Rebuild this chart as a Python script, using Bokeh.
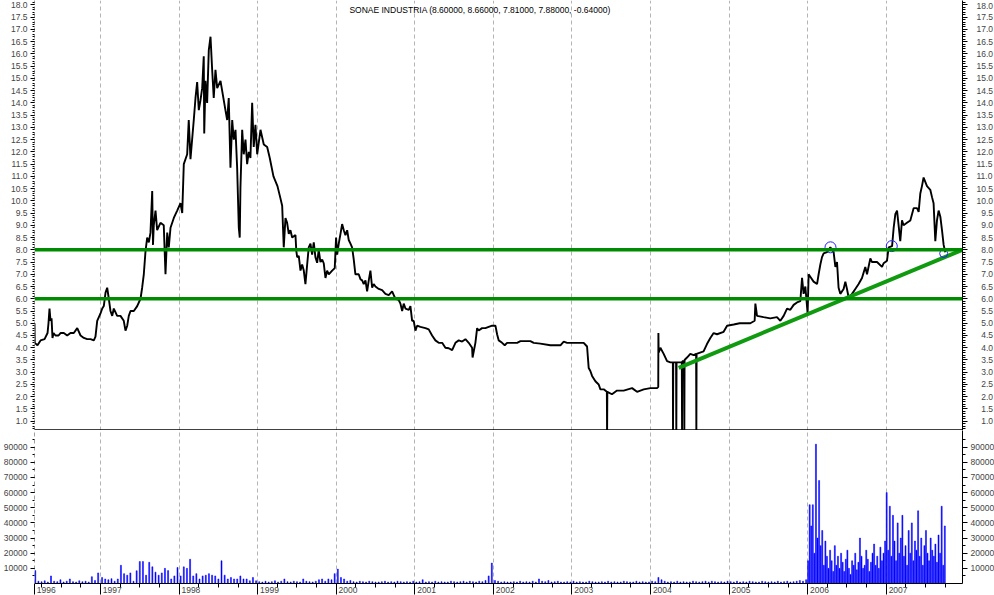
import numpy as np
from bokeh.plotting import figure
from bokeh.models import FixedTicker, LinearAxis, Span, Label, Range1d
from bokeh.layouts import column
from bokeh.embed import file_html
from bokeh.resources import INLINE

TITLE = "SONAE INDUSTRIA (8.60000, 8.66000, 7.81000, 7.88000, -0.64000)"
YEARS = list(range(1996, 2008))

# price series (decimal year, price)
price_t = [
    1996.160, 1996.163, 1996.198, 1996.237, 1996.288, 1996.326, 1996.338, 1996.351, 1996.364, 1996.377,
    1996.389, 1996.402, 1996.427, 1996.466, 1996.491, 1996.533, 1996.576, 1996.618, 1996.660, 1996.704,
    1996.746, 1996.788, 1996.831, 1996.873, 1996.915, 1996.936, 1996.958, 1997.000, 1997.022, 1997.042,
    1997.064, 1997.085, 1997.106, 1997.127, 1997.149, 1997.169, 1997.212, 1997.254, 1997.296, 1997.318,
    1997.340, 1997.360, 1997.382, 1997.424, 1997.467, 1997.509, 1997.530, 1997.551, 1997.573, 1997.594,
    1997.615, 1997.636, 1997.658, 1997.668, 1997.678, 1997.700, 1997.721, 1997.763, 1997.805, 1997.827,
    1997.849, 1997.869, 1997.891, 1997.933, 1997.976, 1998.018, 1998.040, 1998.060, 1998.103, 1998.123,
    1998.145, 1998.187, 1998.209, 1998.230, 1998.251, 1998.272, 1998.294, 1998.314, 1998.320, 1998.336,
    1998.357, 1998.378, 1998.400, 1998.421, 1998.441, 1998.463, 1998.485, 1998.527, 1998.548, 1998.569,
    1998.590, 1998.612, 1998.632, 1998.654, 1998.676, 1998.696, 1998.718, 1998.739, 1998.760, 1998.772,
    1998.781, 1998.803, 1998.823, 1998.845, 1998.866, 1998.887, 1998.908, 1998.930, 1998.950, 1998.972,
    1998.994, 1999.036, 1999.078, 1999.121, 1999.154, 1999.201, 1999.252, 1999.290, 1999.312, 1999.332,
    1999.354, 1999.375, 1999.396, 1999.417, 1999.439, 1999.481, 1999.492, 1999.503, 1999.523, 1999.545,
    1999.566, 1999.587, 1999.608, 1999.630, 1999.650, 1999.672, 1999.693, 1999.714, 1999.735, 1999.757,
    1999.777, 1999.799, 1999.821, 1999.841, 1999.863, 1999.884, 1999.905, 1999.948, 1999.981, 1999.998,
    2000.012, 2000.032, 2000.054, 2000.075, 2000.096, 2000.117, 2000.139, 2000.159, 2000.181, 2000.202,
    2000.223, 2000.244, 2000.286, 2000.308, 2000.330, 2000.350, 2000.372, 2000.393, 2000.414, 2000.435,
    2000.457, 2000.477, 2000.499, 2000.541, 2000.584, 2000.626, 2000.668, 2000.711, 2000.732, 2000.753,
    2000.795, 2000.817, 2000.839, 2000.859, 2000.881, 2000.923, 2000.944, 2000.966, 2000.986, 2001.008,
    2001.029, 2001.071, 2001.135, 2001.177, 2001.220, 2001.262, 2001.304, 2001.348, 2001.389, 2001.432,
    2001.475, 2001.517, 2001.559, 2001.602, 2001.644, 2001.686, 2001.729, 2001.735, 2001.771, 2001.793,
    2001.813, 2001.856, 2001.898, 2001.940, 2001.984, 2002.026, 2002.047, 2002.068, 2002.111, 2002.144,
    2002.174, 2002.302, 2002.344, 2002.471, 2002.513, 2002.598, 2002.725, 2002.853, 2002.895, 2002.938,
    2003.149, 2003.192, 2003.213, 2003.234, 2003.256, 2003.298, 2003.340, 2003.362, 2003.404, 2003.444,
    2003.447, 2003.450, 2003.509, 2003.573, 2003.658, 2003.765, 2003.828, 2003.913, 2003.998, 2004.083,
    2004.098, 2004.100, 2004.103, 2004.125, 2004.167, 2004.210, 2004.252, 2004.284, 2004.286, 2004.289,
    2004.303, 2004.325, 2004.328, 2004.331, 2004.358, 2004.398, 2004.401, 2004.404, 2004.413, 2004.427,
    2004.430, 2004.433, 2004.464, 2004.506, 2004.549, 2004.580, 2004.583, 2004.586, 2004.675, 2004.718,
    2004.761, 2004.803, 2004.846, 2004.930, 2004.974, 2005.058, 2005.134, 2005.185, 2005.270, 2005.325,
    2005.334, 2005.355, 2005.438, 2005.524, 2005.609, 2005.652, 2005.694, 2005.737, 2005.779, 2005.821,
    2005.864, 2005.906, 2005.928, 2005.948, 2005.970, 2005.999, 2006.012, 2006.033, 2006.075, 2006.119,
    2006.139, 2006.161, 2006.182, 2006.203, 2006.246, 2006.288, 2006.330, 2006.352, 2006.373, 2006.393,
    2006.415, 2006.457, 2006.479, 2006.500, 2006.521, 2006.564, 2006.606, 2006.648, 2006.691, 2006.733,
    2006.755, 2006.797, 2006.818, 2006.882, 2006.946, 2006.966, 2007.009, 2007.030, 2007.074, 2007.094,
    2007.115, 2007.137, 2007.157, 2007.178, 2007.200, 2007.220, 2007.263, 2007.306, 2007.348, 2007.391,
    2007.412, 2007.433, 2007.454, 2007.475, 2007.518, 2007.560, 2007.582, 2007.602, 2007.624, 2007.645,
    2007.666, 2007.688, 2007.709, 2007.730, 2007.751,
]
price_v = [
    5.0, 4.2, 4.1, 4.3, 4.35, 4.6, 5.0, 5.6, 5.1, 5.2,
    4.4, 4.6, 4.5, 4.5, 4.6, 4.6, 4.5, 4.6, 4.6, 4.8,
    4.5, 4.4, 4.35, 4.35, 4.3, 4.45, 5.1, 5.4, 5.6, 5.7,
    6.25, 6.45, 6.0, 5.5, 5.3, 5.6, 5.3, 5.3, 5.1, 4.7,
    4.9, 5.3, 5.5, 5.5, 5.7, 6.0, 6.45, 7.0, 7.95, 8.5,
    8.3, 8.7, 10.4, 8.2, 9.0, 9.6, 8.8, 9.1, 9.0, 7.0,
    8.7, 8.1, 8.9, 9.3, 9.6, 9.9, 9.5, 11.5, 11.9, 13.3,
    11.7, 13.3, 14.2, 14.85, 13.7, 14.1, 14.6, 15.9, 12.75, 14.9,
    14.0, 16.15, 16.7, 15.35, 14.2, 15.35, 14.6, 14.9, 14.5, 14.1,
    13.7, 13.3, 14.2, 11.35, 13.3, 12.5, 12.9, 11.35, 8.9, 8.5,
    10.55, 12.9, 11.9, 12.5, 11.5, 12.0, 11.75, 14.0, 12.2, 13.1,
    11.9, 12.9, 12.3, 12.2, 11.75, 11.0, 10.6, 10.1, 9.8, 8.1,
    9.3, 9.1, 8.65, 8.8, 8.5, 8.6, 7.95, 7.7, 7.75, 7.15,
    7.4, 7.15, 6.6, 7.4, 8.1, 8.25, 7.8, 8.3, 7.7, 7.47,
    8.0, 7.5, 7.6, 7.45, 6.85, 7.15, 7.0, 7.15, 7.25, 8.5,
    7.8, 8.25, 8.65, 9.05, 8.8, 8.6, 8.8, 8.4, 8.25, 8.1,
    7.6, 7.0, 7.0, 6.8, 6.75, 6.6, 6.75, 6.3, 6.75, 7.15,
    6.45, 6.6, 6.5, 6.4, 6.35, 6.2, 6.15, 6.3, 6.15, 6.0,
    5.95, 5.8, 5.5, 5.8, 5.6, 5.55, 5.7, 5.1, 5.1, 4.7,
    4.9, 4.85, 4.8, 4.75, 4.5, 4.3, 4.2, 4.2, 4.0, 3.98,
    3.9, 4.2, 4.3, 4.25, 4.35, 4.2, 4.0, 3.6, 4.2, 4.8,
    4.7, 4.8, 4.8, 4.85, 4.9, 4.9, 4.55, 4.3, 4.2, 4.1,
    4.2, 4.2, 4.27, 4.27, 4.2, 4.17, 4.1, 4.1, 4.25, 4.2,
    4.2, 4.05, 3.17, 3.05, 2.85, 2.63, 2.5, 2.3, 2.3, 2.2,
    0.5, 2.2, 2.1, 2.25, 2.25, 2.35, 2.2, 2.3, 2.35, 2.35,
    2.4, 4.6, 3.8, 4.0, 3.75, 3.45, 3.4, 3.4, 0.5, 3.4,
    3.4, 3.4, 0.5, 3.4, 3.4, 3.4, 0.5, 3.45, 3.45, 3.45,
    0.5, 3.5, 3.6, 3.75, 3.7, 3.75, 0.5, 3.75, 3.85, 4.15,
    4.4, 4.6, 4.55, 4.65, 4.9, 4.95, 5.0, 5.0, 5.0, 5.1,
    5.8, 5.3, 5.25, 5.2, 5.25, 5.1, 5.3, 5.6, 5.55, 5.75,
    5.85, 5.9, 6.85, 6.2, 6.5, 5.4, 7.0, 6.9, 6.7, 6.6,
    7.0, 7.4, 7.7, 7.85, 7.9, 8.1, 7.9, 7.3, 7.5, 6.45,
    6.2, 6.4, 6.7, 6.4, 6.05, 6.2, 6.4, 6.6, 6.85, 7.3,
    7.0, 7.65, 7.5, 7.5, 7.3, 7.45, 7.55, 8.1, 8.15, 8.9,
    9.45, 9.6, 9.0, 8.35, 9.2, 9.0, 9.1, 9.2, 9.7, 9.7,
    9.55, 10.3, 10.6, 10.95, 10.6, 10.45, 10.15, 9.9, 8.35, 9.2,
    9.6, 9.35, 8.8, 8.2, 7.9,
]

# support levels, trend line, marked touches
levels = [6.0, 8.0]
trend_t = [2004.358, 2007.97]
trend_v = [3.18, 8.0]
circ_t = [2006.29, 2007.07, 2007.73]
circ_v = [8.1, 8.15, 7.85]
circ_s = [11, 11, 8]

# volume by year (bars in sequence within each year)
vol_1996 = [8500, 1500, 1200, 1800, 1000, 5000, 1500, 1200, 2500, 1000, 1500, 3000, 1200, 1000, 1800, 1200, 1500, 1000, 4500, 2000, 7000]
vol_1997 = [4000, 3000, 2500, 3200, 1500, 3000, 12000, 6500, 5500, 7000, 1500, 8400, 14500, 14500, 5500, 14000, 11000, 7500, 5500, 7000, 10000, 8500, 3000, 5000, 10600]
vol_1998 = [5000, 11000, 10000, 16000, 5000, 6500, 3000, 5000, 5500, 6500, 5500, 5000, 3000, 15000, 5500, 3000, 4000, 3000, 3000, 5000, 3000, 3000, 1800, 4000, 1800]
vol_1999 = [1200, 1000, 1500, 1000, 1200, 1800, 1000, 1500, 3000, 1200, 1000, 1500, 1200, 1000, 3000, 1500, 1200, 1000, 1500, 2500, 3000, 1500, 3000, 2500, 6500]
vol_2000 = [9500, 4000, 3000, 1500, 2000, 1200, 1000, 1500, 1200, 1000, 1500, 1200, 1000, 1000, 1200, 1500, 1000, 1200, 1000, 1500, 1200, 1000, 1200, 1000, 1500]
vol_2001 = [1000, 1200, 2500, 1000, 1200, 1000, 1500, 1000, 1200, 1000, 1000, 1500, 1200, 1000, 1200, 1500, 1000, 1500, 1200, 1000, 1500, 1200, 2000, 5000, 13500]
vol_2002 = [2000, 1500, 1000, 1200, 1000, 1000, 1200, 1000, 1500, 1000, 1200, 1000, 1500, 1000, 3000, 1500, 1200, 2000, 1000, 1200, 1500, 1000, 1000, 1200, 1000]
vol_2003 = [1500, 1000, 1200, 1000, 1000, 1500, 1200, 1000, 1000, 1200, 1000, 1500, 1000, 1200, 1000, 1000, 1500, 1200, 1000, 1000, 1500, 1000, 1200, 1000, 1000]
vol_2004 = [1500, 1200, 4000, 2500, 1500, 1000, 1200, 1000, 1500, 1000, 1200, 1000, 1000, 1500, 1200, 1000, 1200, 1500, 1000, 1500, 1200, 1000, 1200, 1000, 1500]
vol_2005 = [1200, 1000, 1500, 1000, 1200, 1000, 1500, 1200, 1000, 1000, 1500, 1200, 1000, 1200, 1000, 1500, 1000, 1200, 1500, 1000, 1200, 1500, 2000, 1500, 2500]
vol_2006 = [15000, 52000, 38000, 52000, 20000, 92000, 30000, 68000, 25000, 35000, 12000, 28000, 18000, 10000, 22000, 15000, 8000, 25000, 12000, 18000,
            10000, 20000, 14000, 8000, 16000, 22000, 10000, 6000, 15000, 12000, 20000, 9000, 14000, 30000, 18000, 10000, 12000, 22000, 16000, 8000,
            14000, 20000, 26000, 12000, 18000, 10000, 24000, 15000, 20000, 28000]
vol_2007 = [60000, 22000, 51000, 18000, 45000, 28000, 15000, 40000, 20000, 30000, 45000, 18000, 25000, 12000, 35000, 20000, 40000, 15000, 28000, 22000,
            48000, 18000, 30000, 12000, 25000, 35000, 20000, 15000, 30000, 22000, 18000, 26000, 14000, 32000, 20000, 51000, 12000, 38000]

# ---- placement of bars within each year ----
vol_x, vol_y = [], []
blocks = [(1996, vol_1996, 0.17, 0.04)] + \
         [(y, v, 0.02, 0.04) for y, v in zip(range(1997, 2006),
          [vol_1997, vol_1998, vol_1999, vol_2000, vol_2001, vol_2002, vol_2003, vol_2004, vol_2005])] + \
         [(2006, vol_2006, 0.005, 0.02), (2007, vol_2007, 0.005, 0.02)]
for yr, vals, off, step in blocks:
    for i, v in enumerate(vals):
        vol_x.append(yr + off + i * step)
        vol_y.append(v)

X0, X1 = 1996.16, 2007.97
FONT = "Liberation Sans"
FS = "8.5px"
GREEN = "#008c00"
NB = "\u00a0"
LB, FW, RB = 34, 928, 32

xr = Range1d(X0, X1)
year_grid = FixedTicker(ticks=YEARS[1:])

# ---------------- price panel ----------------
p = figure(frame_width=FW, frame_height=430, x_range=xr, y_range=Range1d(0.62, 18.18),
           output_backend="svg", toolbar_location=None,
           min_border_left=LB, min_border_right=RB, min_border_top=0, min_border_bottom=0)
p.outline_line_color = None
p.background_fill_color = "white"
p.border_fill_color = "white"
p.xaxis.visible = False
p.ygrid.visible = False
p.xgrid.ticker = year_grid
p.xgrid.grid_line_color = "#b4b4b4"
p.xgrid.grid_line_dash = "4 3"

pmaj = [1.0 + 0.5 * i for i in range(35)]
pmin = [round(0.7 + 0.1 * i, 1) for i in range(175)]
pt = FixedTicker(ticks=pmaj, minor_ticks=pmin)

ya = p.yaxis[0]
ya.ticker = pt
ya.major_label_overrides = {v: f"{v:.1f}" for v in pmaj}
ya.axis_line_color = "#a0a0a0"
ya.axis_line_dash = "4 3"
ya.major_tick_out = 4
ya.major_tick_in = 0
ya.minor_tick_out = 2
ya.minor_tick_in = 0
ya.major_label_standoff = 3
ya.major_label_text_font = FONT
ya.major_label_text_font_size = FS

ra = LinearAxis(ticker=pt)
ra.major_label_overrides = {v: (NB * 2 if v < 10 else "") + f"{v:.1f}" for v in pmaj}
ra.axis_line_color = "black"
ra.major_tick_out = 5
ra.major_tick_in = 0
ra.minor_tick_out = 3
ra.minor_tick_in = 0
ra.major_label_standoff = 9
ra.major_label_text_font = FONT
ra.major_label_text_font_size = FS
p.add_layout(ra, "right")

p.line(price_t, price_v, line_color="black", line_width=1.9)
for lv in levels:
    p.add_layout(Span(location=lv, dimension="width", line_color=GREEN, line_width=3.5))
p.line(trend_t, trend_v, line_color="#109a10", line_width=4)
p.scatter(circ_t, circ_v, size=circ_s, marker="circle", fill_color=None,
          line_color="#2020ff", line_width=1)
p.add_layout(Span(location=0.645, dimension="width", line_color="black", line_width=1.2))
p.add_layout(Label(x=2001.83, y=17.8, text=TITLE, text_align="center", text_baseline="middle",
                   text_font=FONT, text_font_size=FS, text_color="black"))

# ---------------- volume panel ----------------
q = figure(frame_width=FW, frame_height=153, x_range=xr, y_range=Range1d(0, 101000),
           output_backend="svg", toolbar_location=None,
           min_border_left=LB, min_border_right=RB, min_border_top=0, min_border_bottom=0)
q.outline_line_color = None
q.ygrid.visible = False
q.xgrid.ticker = year_grid
q.xgrid.grid_line_color = "#b4b4b4"
q.xgrid.grid_line_dash = "4 3"

vmaj = [10000 * i for i in range(1, 10)]
vmin = [5000 * i for i in range(1, 20)]
vt = FixedTicker(ticks=vmaj, minor_ticks=vmin)
qy = q.yaxis[0]
qy.ticker = vt
qy.major_label_overrides = {v: str(v) for v in vmaj}
qy.axis_line_color = "#a0a0a0"
qy.axis_line_dash = "4 3"
qy.major_tick_out = 4
qy.major_tick_in = 0
qy.minor_tick_out = 2
qy.minor_tick_in = 0
qy.major_label_standoff = 3
qy.major_label_text_font = FONT
qy.major_label_text_font_size = FS

qr = LinearAxis(ticker=vt)
qr.major_label_overrides = {v: str(v) for v in vmaj}
qr.axis_line_color = "black"
qr.major_tick_out = 5
qr.major_tick_in = 0
qr.minor_tick_out = 3
qr.minor_tick_in = 0
qr.major_label_standoff = 3
qr.major_label_text_font = FONT
qr.major_label_text_font_size = FS
q.add_layout(qr, "right")

xticks = [X0] + YEARS[1:]
xminor = [y + f for y in YEARS for f in (0.25, 0.5, 0.75) if X0 < y + f < X1]
qx = q.xaxis[0]
qx.ticker = FixedTicker(ticks=xticks, minor_ticks=xminor)
qx.major_label_overrides = {t: NB * 10 + str(y) for t, y in zip(xticks, YEARS)}
qx.axis_line_color = "black"
qx.major_tick_out = 11
qx.major_tick_in = 0
qx.minor_tick_out = 4
qx.minor_tick_in = 0
qx.major_label_standoff = -10
qx.major_label_text_font = FONT
qx.major_label_text_font_size = FS

q.vbar(x=vol_x, top=vol_y, width=0.013, bottom=0, fill_color="#0000ff", line_color="#0000ff", line_width=0.5)

layout = column(p, q, spacing=0)
open("out.html", "w").write(file_html(layout, INLINE))
